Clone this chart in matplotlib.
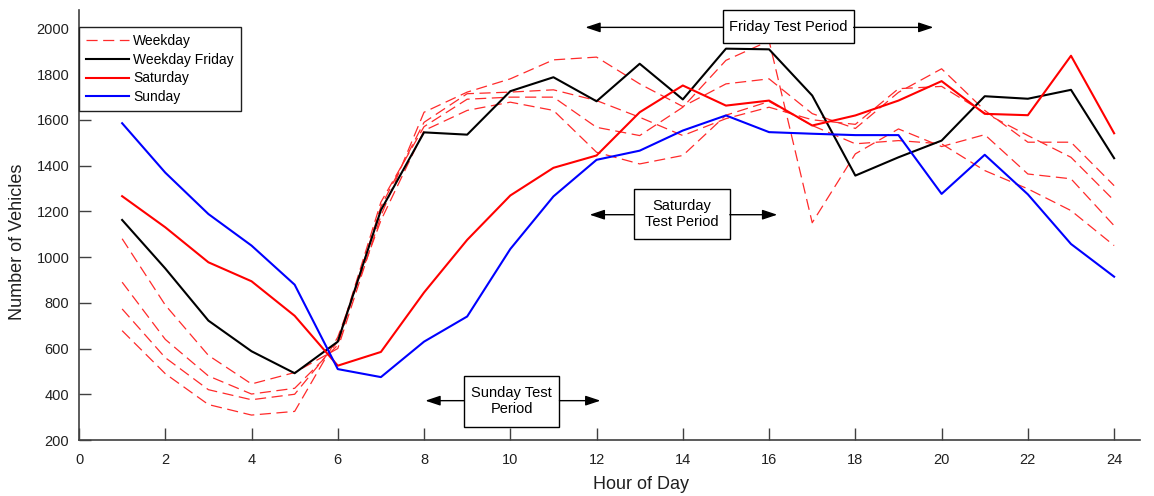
import matplotlib.pyplot as plt
from matplotlib.patches import Rectangle

plt.rcParams['font.family'] = ['Liberation Sans', 'DejaVu Sans']
plt.rcParams['lines.scale_dashes'] = False

hours = list(range(1, 25))

# Mon-Thu weekday profiles
weekday_a = [1080, 790, 570, 445, 495, 600, 1180, 1633, 1721, 1779, 1862, 1874,
             1757, 1658, 1757, 1779, 1627, 1562, 1720, 1823, 1641, 1502, 1502, 1312]
weekday_b = [890, 640, 480, 401, 426, 615, 1220, 1589, 1714, 1721, 1731, 1684,
             1611, 1531, 1605, 1655, 1600, 1580, 1736, 1746, 1630, 1531, 1436, 1247]
weekday_c = [773, 560, 420, 376, 400, 630, 1240, 1570, 1690, 1699, 1699, 1567,
             1531, 1655, 1860, 1945, 1150, 1451, 1560, 1483, 1535, 1363, 1342, 1137]
weekday_d = [678, 490, 355, 309, 325, 650, 1160, 1553, 1641, 1677, 1641, 1458,
             1407, 1444, 1620, 1680, 1575, 1495, 1509, 1495, 1378, 1298, 1203, 1050]
weekdays = [weekday_a, weekday_b, weekday_c, weekday_d]

friday = [1162, 950, 722, 588, 492, 630, 1205, 1545, 1535, 1725, 1786, 1681,
          1845, 1689, 1911, 1908, 1706, 1356, 1436, 1509, 1703, 1692, 1731, 1432]
saturday = [1266, 1130, 977, 894, 743, 525, 585, 845, 1075, 1269, 1390, 1444,
            1633, 1750, 1662, 1684, 1575, 1619, 1684, 1769, 1626, 1620, 1880, 1541]
sunday = [1585, 1369, 1188, 1050, 879, 510, 475, 630, 740, 1035, 1265, 1425,
          1465, 1553, 1619, 1546, 1539, 1533, 1533, 1276, 1447, 1274, 1057, 914]

# test-period callouts: label, box (x0, x1, y0, y1), arrow tips (left, right), arrow y
periods = [
    ('Friday Test Period', (14.93, 17.96, 1934, 2078), (11.74, 19.81), 2004),
    ('Saturday\nTest Period', (12.86, 15.09, 1079, 1298), (11.84, 16.19), 1185),
    ('Sunday Test\nPeriod', (8.92, 11.14, 259, 481), (8.03, 12.09), 372),
]

fig = plt.figure(figsize=(11.54, 4.96), dpi=100)
ax = fig.add_axes([79 / 1154, 56 / 496, 1061 / 1154, 430 / 496])

for i, w in enumerate(weekdays):
    ax.plot(hours, w, color='#ff2a2a', lw=0.9, dashes=(8, 4),
            label='Weekday' if i == 0 else None)
ax.plot(hours, friday, color='black', lw=1.5, label='Weekday Friday')
ax.plot(hours, saturday, color='#ff0000', lw=1.5, label='Saturday')
ax.plot(hours, sunday, color='#0000ff', lw=1.5, label='Sunday')

for text, (x0, x1, y0, y1), (tl, tr), ya in periods:
    ax.add_patch(Rectangle((x0, y0), x1 - x0, y1 - y0, fill=True, fc='white',
                           ec='black', lw=1.0, zorder=5, clip_on=False))
    ax.text((x0 + x1) / 2, (y0 + y1) / 2, text, ha='center', va='center',
            fontsize=10.5, zorder=6, linespacing=1.2)
    arrow = dict(arrowstyle='-|>,head_length=0.9,head_width=0.3', color='black',
                 lw=1.0, shrinkA=0, shrinkB=0)
    ax.annotate('', xy=(tl, ya), xytext=(x0, ya), arrowprops=arrow, zorder=6)
    ax.annotate('', xy=(tr, ya), xytext=(x1, ya), arrowprops=arrow, zorder=6)

ax.set_xlim(0, 24.6)
ax.set_ylim(200, 2080)
ax.set_xticks(range(0, 25, 2))
ax.set_yticks(range(200, 2001, 200))

for side in ('top', 'right'):
    ax.spines[side].set_visible(False)
for side in ('left', 'bottom'):
    ax.spines[side].set_color('#404040')
    ax.spines[side].set_linewidth(1.2)
ax.tick_params(axis='both', direction='in', length=8.5, width=1.0,
               color='#404040', labelsize=10.5, labelcolor='#202020')
ax.tick_params(axis='x', pad=9)
ax.tick_params(axis='y', pad=7)

ax.set_xlabel('Hour of Day', fontsize=13, color='#202020')
ax.set_ylabel('Number of Vehicles', fontsize=13, color='#202020')
ax.xaxis.set_label_coords(0.53, -0.083)
ax.yaxis.set_label_coords(-0.05, 0.46)

leg = ax.legend(loc='upper left', bbox_to_anchor=(0, 0.961), borderaxespad=0,
                fontsize=10, handlelength=3.1, handletextpad=0.3,
                labelspacing=0.35, borderpad=0.5, fancybox=False, framealpha=1)
leg.get_frame().set_edgecolor('#202020')
leg.get_frame().set_linewidth(1.0)
leg.set_zorder(7)

fig.savefig('out.png', dpi=100)
